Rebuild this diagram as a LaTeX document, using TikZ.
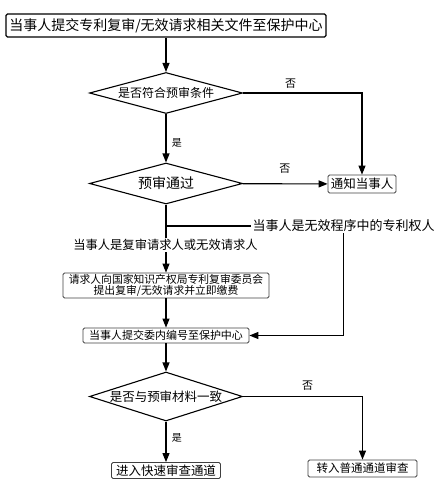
\documentclass[tikz,border=0pt]{standalone}
\usepackage{fontspec}
\newfontfamily\cjk{Noto Sans CJK SC}
\usetikzlibrary{shapes.geometric,arrows.meta,positioning}
\newcommand{\fsz}[1]{\cjk\fontsize{#1}{#1}\selectfont}
\tikzset{
  box/.style    = {draw=black!75, rounded corners=1.5pt, align=center, inner sep=1.5pt,
                   line width=0.8pt},
  choice/.style = {draw, diamond, line width=1.1pt, minimum width=153pt,
                   minimum height=41pt, shape aspect=3.7, inner sep=0pt, align=center},
  ar/.style     = {-{Triangle[length=9pt,width=7pt]}, line width=1.1pt},
  ln/.style     = {line width=1.1pt},
  lbl/.style    = {inner sep=1pt}
}
\begin{document}
\begin{tikzpicture}[x=1pt, y=-1pt]
\useasboundingbox (0,0) rectangle (436,480);

\node[box, draw=black, line width=1.2pt, minimum width=320pt, minimum height=23pt,
  font=\fsz{14}] (submit) at (166,25.5) {当事人提交专利复审/无效请求相关文件至保护中心};
\node[choice, font=\fsz{12}] (cond) at (166,93) {是否符合预审条件};
\node[choice, font=\fsz{14}] (pass) at (166,183.5) {预审通过};
\node[box, minimum width=68pt, minimum height=18pt, font=\fsz{12.5}] (notify)
  at (362,184) {通知当事人};

\coordinate (split) at (166,226);
\node[lbl, font=\fsz{13}] (owner) at (343.5,226) {当事人是无效程序中的专利权人};

\node[box, minimum width=206pt, minimum height=25pt, inner sep=0.5pt,
  font=\cjk\fontsize{10.8}{11.5}\selectfont] (apply) at (166,285.5)
  {请求人向国家知识产权局专利复审委员会\\提出复审/无效请求并立即缴费};
\node[box, minimum width=166pt, minimum height=15pt, inner sep=1pt, font=\fsz{11}]
  (number) at (166,335.5) {当事人提交委内编号至保护中心};

\node[choice, minimum height=49pt, shape aspect=3.1, font=\fsz{12.5}] (match)
  at (166,396.5) {是否与预审材料一致};
\node[box, minimum width=109pt, minimum height=16pt, font=\fsz{12.5}] (fast)
  at (166,470.5) {进入快速审查通道};
\node[box, minimum width=109pt, minimum height=17pt, font=\fsz{11.5}] (normal)
  at (362.5,468.5) {转入普通通道审查};

\draw[ar] (submit) -- (cond);
\draw[ar] (cond.east) -| node[pos=0.2, above=1pt, font=\fsz{11}] {否} (notify.north);
\draw[ar] (cond) -- node[pos=0.6, right=2pt, font=\fsz{10}] {是} (pass);
\draw[ar] (pass) -- node[above=7pt, font=\fsz{11}] {否} (notify);
\draw[ar] (pass.south) -- (apply.north);
\draw[ln] (split) -- (owner.west);
\draw[ar] (owner.south) |- (number.east);
\draw[ar] (apply) -- (number);
\draw[ar] (number) -- (match);
\draw[ar] (match) -- node[pos=0.4, right=2pt, font=\fsz{10}] {是} (fast);
\draw[ar] (match.east) -| node[pos=0.27, above=2pt, font=\fsz{11}] {否} (normal.north);

\node[lbl, fill=white, font=\fsz{12.3}] (reqlbl) at (165.5,245)
  {当事人是复审请求人或无效请求人};
\end{tikzpicture}
\end{document}
